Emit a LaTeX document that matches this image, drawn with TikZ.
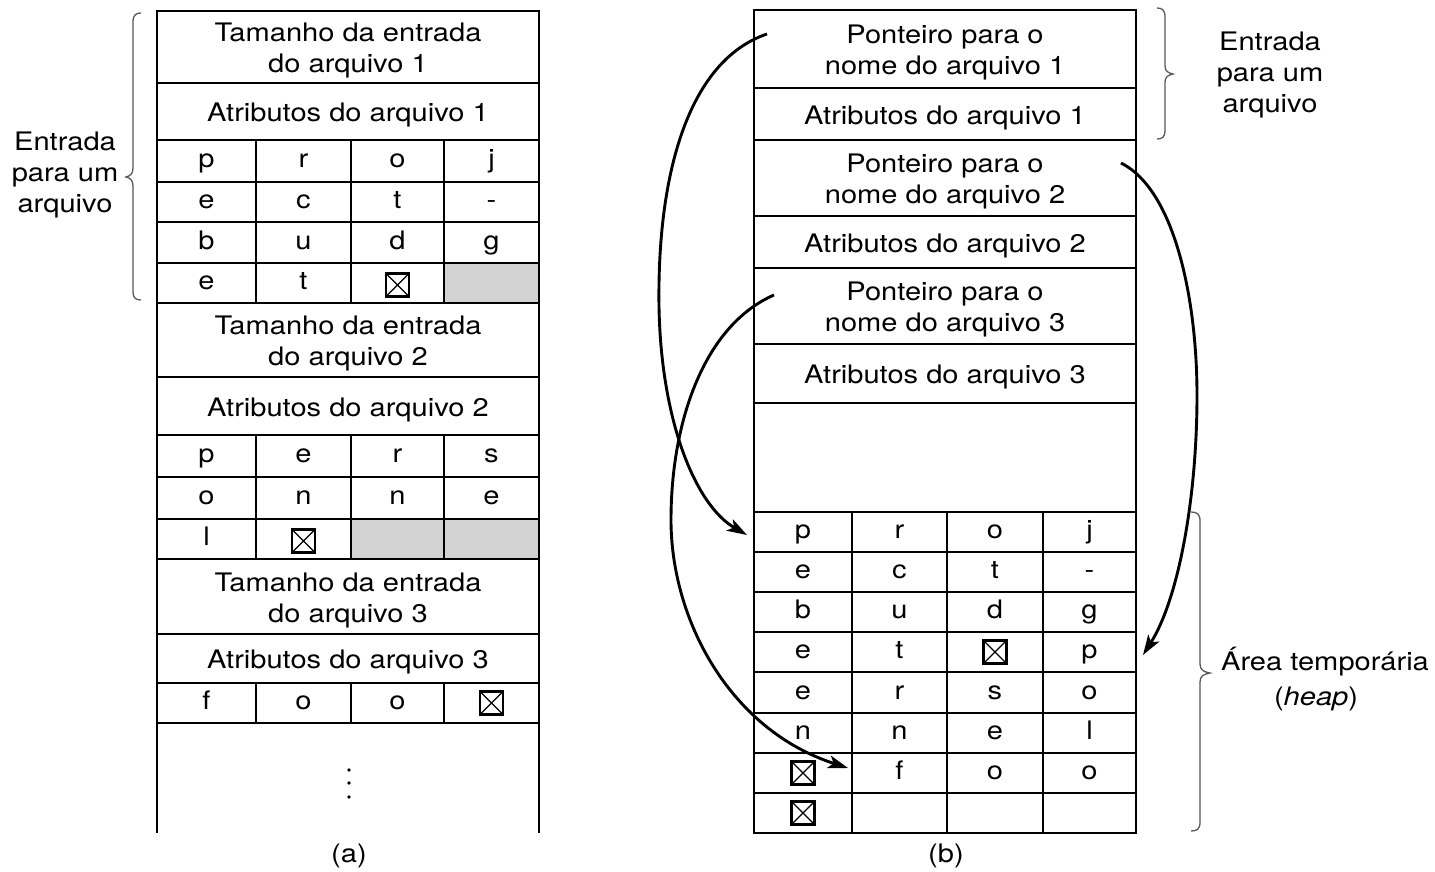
\documentclass[tikz,border=0pt]{standalone}
\usepackage{fontspec}
\setmainfont{TeX Gyre Heros}[FakeStretch=1.14]
\usetikzlibrary{arrows.meta,calc}
\tikzset{
  tbl/.style={draw, line width=2.3pt, inner sep=0pt, outer sep=0pt, align=center},
  ch/.style={tbl, text height=18pt, text depth=5pt},
  gcell/.style={tbl, fill=gray!35},
  txt/.style={align=center, inner sep=0pt},
  xb/.style={draw, line width=2.2pt, minimum width=23pt, minimum height=23pt, inner sep=0pt,
    path picture={\draw[line width=1.2pt] (path picture bounding box.north west)--(path picture bounding box.south east)
      (path picture bounding box.north east)--(path picture bounding box.south west);}},
  brc/.style={draw=black!65, line width=1.3pt},
  arr/.style={line width=2.9pt, -{Stealth[length=20pt,width=13pt,inset=5pt]}},
  lbl/.style={align=center, inner sep=0pt},
  tline/.style={line width=2.3pt}
}
\newcommand\mycell[7][]{\node[tbl,minimum width={(#4-#3)*1pt},minimum height={(#6-#5)*1pt},#1] (#2) at ({(#3+#4)/2},{(#5+#6)/2}) {#7};}
\newcommand\bigcell[6]{\node[tbl,minimum width={(#4-#3)*1pt},minimum height={(#6-#5)*1pt}] (#1) at ({(#3+#4)/2},{(#5+#6)/2}) {};\node[txt] (#1-t) at ($(#1)+(0,3.5)$) {#2};}
\newcommand\rowL[7]{\mycell[ch]{#1c1}{157}{256}{#2}{#3}{#4}\mycell[ch]{#1c2}{256}{351}{#2}{#3}{#5}\mycell[ch]{#1c3}{351}{444}{#2}{#3}{#6}\mycell[ch]{#1c4}{444}{539}{#2}{#3}{#7}}
\newcommand\rowR[7]{\mycell[ch]{#1c1}{754}{852}{#2}{#3}{#4}\mycell[ch]{#1c2}{852}{947}{#2}{#3}{#5}\mycell[ch]{#1c3}{947}{1043}{#2}{#3}{#6}\mycell[ch]{#1c4}{1043}{1136}{#2}{#3}{#7}}
\begin{document}
\begin{tikzpicture}[x=1pt,y=-1pt,font=\fontsize{25.5}{31}\selectfont]
\fill[white] (0,0) rectangle (1435,871);
\useasboundingbox (0,0) rectangle (1435,871);
% ---------- (a) ----------
\bigcell{a1}{Tamanho da entrada\\do arquivo 1}{157}{539}{11}{83}
\bigcell{a2}{Atributos do arquivo 1}{157}{539}{83}{140}
\rowL{a3}{140}{182}{p}{r}{o}{j}
\rowL{a4}{182}{222}{e}{c}{t}{-}
\rowL{a5}{222}{263}{b}{u}{d}{g}
\mycell[ch]{a6c1}{157}{256}{263}{303}{e}
\mycell[ch]{a6c2}{256}{351}{263}{303}{t}
\mycell[ch]{a6c3}{351}{444}{263}{303}{}
\mycell[gcell]{a6c4}{444}{539}{263}{303}{}
\node[xb] (a6x) at ($(a6c3)+(0,2)$) {};
\bigcell{a7}{Tamanho da entrada\\do arquivo 2}{157}{539}{303}{377}
\bigcell{a8}{Atributos do arquivo 2}{157}{539}{377}{435}
\rowL{a9}{435}{477}{p}{e}{r}{s}
\rowL{a10}{477}{519}{o}{n}{n}{e}
\mycell[ch]{a11c1}{157}{256}{519}{559}{l}
\mycell[ch]{a11c2}{256}{351}{519}{559}{}
\mycell[gcell]{a11c3}{351}{444}{519}{559}{}
\mycell[gcell]{a11c4}{444}{539}{519}{559}{}
\node[xb] (a11x) at ($(a11c2)+(0,2)$) {};
\bigcell{a12}{Tamanho da entrada\\do arquivo 3}{157}{539}{559}{634}
\bigcell{a13}{Atributos do arquivo 3}{157}{539}{634}{683}
\rowL{a14}{683}{723}{f}{o}{o}{}
\node[xb] (a14x) at (a14c4) {};
\draw[tline] (a14c1.south west) -- ++(0,110);
\draw[tline] (a14c4.south east) -- ++(0,110);
\foreach \yy in {770,783,797} \fill (349,\yy) circle (1.8);
\node (capa) at (349,856) {(a)};
% ---------- (b) ----------
\bigcell{b1}{Ponteiro para o\\nome do arquivo 1}{754}{1136}{10}{88}
\bigcell{b2}{Atributos do arquivo 1}{754}{1136}{88}{140}
\bigcell{b3}{Ponteiro para o\\nome do arquivo 2}{754}{1136}{140}{216}
\bigcell{b4}{Atributos do arquivo 2}{754}{1136}{216}{268}
\bigcell{b5}{Ponteiro para o\\nome do arquivo 3}{754}{1136}{268}{344}
\bigcell{b6}{Atributos do arquivo 3}{754}{1136}{344}{403}
\mycell{b7}{754}{1136}{403}{512}{}
\rowR{b8}{512}{552}{p}{r}{o}{j}
\rowR{b9}{552}{592}{e}{c}{t}{-}
\rowR{b10}{592}{632}{b}{u}{d}{g}
\rowR{b11}{632}{672}{e}{t}{}{p}
\node[xb] (b11x) at (b11c3) {};
\rowR{b12}{672}{713}{e}{r}{s}{o}
\rowR{b13}{713}{753}{n}{n}{e}{l}
\rowR{b14}{753}{793}{}{f}{o}{o}
\node[xb] (b14x) at (b14c1) {};
\rowR{b15}{793}{833}{}{}{}{}
\node[xb] (b15x) at (b15c1) {};
\node (capb) at (946,856) {(b)};
% ---------- braces and labels ----------
\draw[brc] (141,13) .. controls (136,13) and (133,15) .. (133,22) -- (133,168) .. controls (133,174) and (130,176) .. (126,177) .. controls (130,178) and (133,180) .. (133,186) -- (133,292) .. controls (133,298) and (136,300) .. (141,300);
\node[lbl] (entA) at (65,175) {Entrada\\para um\\arquivo};
\draw[brc] (1157,8) .. controls (1162,8) and (1165,10) .. (1165,17) -- (1165,66) .. controls (1165,71) and (1168,73) .. (1173,74) .. controls (1168,75) and (1165,77) .. (1165,82) -- (1165,131) .. controls (1165,137) and (1162,139) .. (1157,139);
\node[lbl] (entB) at (1270,75) {Entrada\\para um\\arquivo};
\draw[brc] (1191,512) .. controls (1197,512) and (1200,514) .. (1200,521) -- (1200,664) .. controls (1200,670) and (1204,672) .. (1210,673) .. controls (1204,674) and (1200,676) .. (1200,682) -- (1200,822) .. controls (1200,829) and (1197,831) .. (1191,831);
\node[lbl] (heapA) at (1325,662) {Área temporária};
\node[lbl] (heapB) at (1316,699) {(\textit{heap})};
% ---------- arrows ----------
\coordinate (s1) at (767,34);
\coordinate (m1) at (659,307);
\coordinate (e1) at (747,535);
\coordinate (s2) at (1121,163);
\coordinate (m2) at (1197,395);
\coordinate (e2) at (1143,655);
\coordinate (s3) at (774,295);
\coordinate (m3) at (671,520);
\coordinate (e3) at (848,768);
\draw[arr] (s1) .. controls (690,60) and (657,170) .. (m1) .. controls (661,420) and (695,505) .. (e1);
\draw[arr] (s2) .. controls (1175,190) and (1197,300) .. (m2) .. controls (1197,500) and (1178,600) .. (e2);
\draw[arr] (s3) .. controls (705,325) and (671,420) .. (m3) .. controls (671,620) and (730,730) .. (e3);
\end{tikzpicture}
\end{document}
